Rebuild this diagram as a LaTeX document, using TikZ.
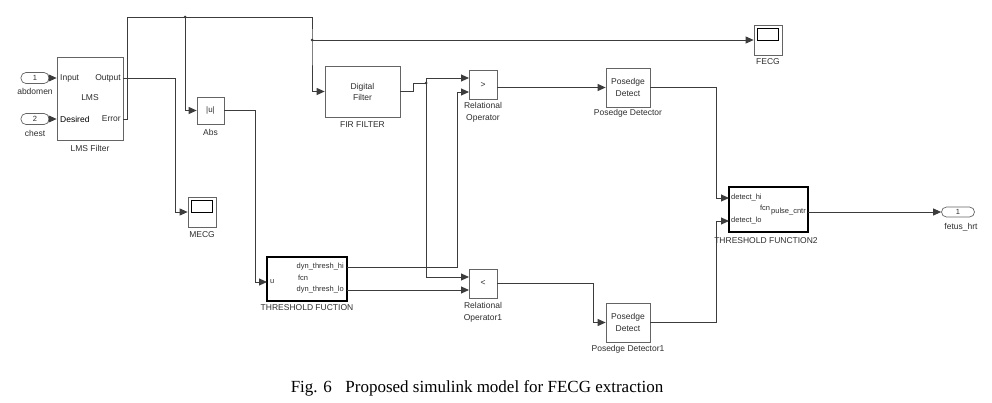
\documentclass[tikz,border=0pt]{standalone}
\usepackage{fontspec}
\setmainfont{Liberation Serif}
\setsansfont{Liberation Sans}
\usetikzlibrary{arrows.meta,calc}
\definecolor{WireGray}{RGB}{60,60,60}
\definecolor{BoxGray}{RGB}{100,100,100}
\definecolor{TextGray}{RGB}{45,45,45}

\tikzset{
  blk/.style={draw=BoxGray, line width=0.7pt, fill=white, inner sep=0pt},
  fcnblk/.style={draw=black, line width=1.6pt, fill=white, inner sep=0pt},
  port/.style={draw=BoxGray, line width=0.7pt, rounded corners=5pt, minimum width=28pt, minimum height=11pt, inner sep=0pt, text=TextGray, font=\sffamily\fontsize{7.5}{8}\selectfont},
  wire/.style={draw=WireGray, line width=0.9pt},
  arr/.style={wire, -{Triangle[length=8pt,width=7pt]}},
  lbl/.style={inner sep=0pt, text=TextGray, font=\sffamily\fontsize{8.5}{12}\selectfont, align=center},
  plbl/.style={inner sep=0pt, text=TextGray, font=\sffamily\fontsize{7.5}{9}\selectfont},
  screen/.style={draw=black, line width=0.6pt}
}

\begin{document}
\begin{tikzpicture}[x=1pt,y=-1pt]
  \useasboundingbox (0,0) rectangle (992,402);
  % inports
  \node[port] (in1) at (35,78) {1};
  \node[port] (in2) at (35,119) {2};
  \node[lbl] (in1name) at (35,91) {abdomen};
  \node[lbl] (in2name) at (35,133) {chest};
  % LMS filter
  \node[blk, minimum width=66pt, minimum height=83pt] (lms) at (90,98.5) {};
  \node[lbl, anchor=west] (lmsin) at (60,78) {Input};
  \node[lbl, anchor=west, text=black] (lmsdes) at (60,119) {Desired};
  \node[lbl, anchor=east] (lmsout) at (121,78) {Output};
  \node[lbl, anchor=east] (lmserr) at (121,119) {Error};
  \node[lbl] (lmstxt) at (90,98) {LMS};
  \node[lbl] (lmsname) at (90,148) {LMS Filter};
  % abs and scopes
  \node[blk, minimum width=27pt, minimum height=27pt] (abs) at (210.5,110.5) {\sffamily\fontsize{8}{9}\selectfont\color{TextGray}|u|};
  \node[lbl] (absname) at (210.5,132) {Abs};
  \node[blk, minimum width=28pt, minimum height=30pt] (mecg) at (202,212) {};
  \draw[screen] ($(mecg.north west)+(4,4)$) rectangle ($(mecg.north east)+(-4,16)$);
  \node[lbl] (mecgname) at (202,235) {MECG};
  \node[blk, minimum width=28pt, minimum height=30pt] (fecg) at (768,40) {};
  \draw[screen] ($(fecg.north west)+(4,4)$) rectangle ($(fecg.north east)+(-4,16)$);
  \node[lbl] (fecgname) at (768,62) {FECG};
  % FIR filter
  \node[blk, minimum width=75pt, minimum height=51pt, lbl] (fir) at (362.5,91.5) {Digital\\[-1pt]Filter};
  \node[lbl] (firname) at (362.5,125) {FIR FILTER};
  % threshold function
  \node[fcnblk, minimum width=80pt, minimum height=44pt] (thr) at (307,279) {};
  \node[plbl, anchor=west] (thru) at (270,282) {u};
  \node[plbl, anchor=east] (thrhi) at (344,267) {dyn\_thresh\_hi};
  \node[plbl, anchor=east] (thrlo) at (344,290) {dyn\_thresh\_lo};
  \node[plbl] (thrfcn) at (303,278) {fcn};
  \node[lbl] (thrname) at (307,308) {THRESHOLD FUCTION};
  % relational operators
  \node[blk, minimum width=28pt, minimum height=29pt, lbl] (gt) at (483,85) {>};
  \node[lbl] (gtname) at (483,112) {Relational\\Operator};
  \node[blk, minimum width=28pt, minimum height=29pt, lbl] (lt) at (483,283.5) {<};
  \node[lbl] (ltname) at (483,312) {Relational\\Operator1};
  % posedge detectors
  \node[blk, minimum width=44pt, minimum height=39pt, lbl] (pos1) at (628,87.5) {Posedge\\Detect};
  \node[lbl] (pos1name) at (628,113) {Posedge Detector};
  \node[blk, minimum width=44pt, minimum height=39pt, lbl] (pos2) at (628,322.5) {Posedge\\Detect};
  \node[lbl] (pos2name) at (628,349) {Posedge Detector1};
  % threshold function 2
  \node[fcnblk, minimum width=79pt, minimum height=45pt] (thr2) at (768.5,209.5) {};
  \node[plbl, anchor=west] (thr2hi) at (731,198) {detect\_hi};
  \node[plbl, anchor=west] (thr2lo) at (731,221) {detect\_lo};
  \node[plbl] (thr2fcn) at (765,208) {fcn};
  \node[plbl, anchor=east] (thr2out) at (806,212) {pulse\_cntr};
  \node[lbl] (thr2name) at (766,241) {THRESHOLD FUNCTION2};
  % outport
  \node[port, minimum width=33pt, minimum height=10pt] (out1) at (958,212) {1};
  \node[lbl] (out1name) at (961,227) {fetus\_hrt};

  % port and bend points
  \coordinate (eTop) at (127,17);
  \coordinate (jAbs) at (185,17);
  \coordinate (jScope) at (312,40);
  \coordinate (oBend) at (175,212);
  \coordinate (aBend) at (255,282);
  \coordinate (thr-u) at (267,282);
  \coordinate (thr-hi) at (347,267);
  \coordinate (thr-lo) at (347,290);
  \coordinate (jFir) at (426,83);
  \coordinate (hiBend) at (457,92);
  \coordinate (gt-a) at (469,78);
  \coordinate (gt-b) at (469,92);
  \coordinate (lt-a) at (469,277);
  \coordinate (lt-b) at (469,290);
  \coordinate (thr2-hi) at (729,198);
  \coordinate (thr2-lo) at (729,221);
  \coordinate (thr2-out) at (808,212);

  % connectors
  \draw[arr] (in1) -- (in1 -| lms.west);
  \draw[arr] (in2) -- (in2 -| lms.west);
  \draw[arr] (lms.east |- in2) -| (eTop) -| (jScope) |- (fir.west);
  \draw[arr] (jAbs) |- (abs.west);
  \draw[arr] (jScope) -- (jScope -| fecg.west);
  \draw[arr] (lms.east |- in1) -| (oBend) -- (mecg.west);
  \draw[arr] (abs.east) -| (aBend) -- (thr-u);
  \draw[wire] (fir.east) -- ++(13,0) |- (jFir);
  \draw[arr] (jFir) |- (gt-a);
  \draw[arr] (jFir) |- (lt-a);
  \draw[arr] (thr-hi) -| (hiBend) -- (gt-b);
  \draw[arr] (thr-lo) -- (lt-b);
  \draw[arr] (gt.east |- pos1) -- (pos1.west);
  \draw[arr] (lt.east) -- ++(96,0) |- (pos2.west);
  \draw[arr] (pos1.east) -- ++(66,0) |- (thr2-hi);
  \draw[arr] (pos2.east) -- ++(66,0) |- (thr2-lo);
  \draw[arr] (thr2-out) -- (out1.west);
  \fill[WireGray] (jAbs) circle (1.5pt) (jScope) circle (1.5pt) (jFir) circle (1.5pt);

  % caption
  \node[font=\fontsize{17}{20}\selectfont] (caption) at (477,388) {Fig. 6\hspace{0.8em}Proposed simulink model for FECG extraction};
\end{tikzpicture}
\end{document}
